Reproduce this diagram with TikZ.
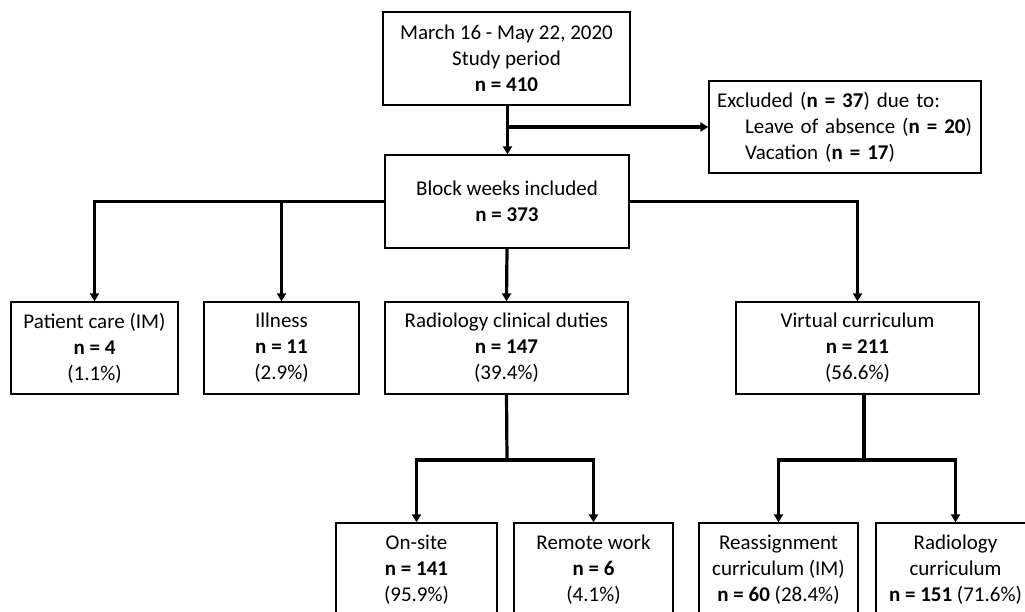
\documentclass[tikz,border=0pt]{standalone}
\usepackage{fontspec}
\setmainfont{Carlito}
\usetikzlibrary{arrows.meta}
\newcommand{\fsz}{\fontsize{21}{26}\selectfont}
\tikzset{
  x=1pt, y=-1pt,
  box/.style={draw, line width=1.3pt, inner sep=0pt, align=center, font=\fsz},
  conn/.style={line width=3.2pt, line cap=butt},
  arr/.style={conn, -{Triangle[width=9pt,length=8pt]}}
}
\begin{document}
\begin{tikzpicture}
\useasboundingbox (0,0) rectangle (1025,612);
\clip (0,0) rectangle (1025,612);
\fill[white] (0,0) rectangle (1025,612);

\node[box, minimum width=247pt, minimum height=93pt] (top) at (506.5,58.5)
  {March 16 - May 22, 2020\\Study period\\\textbf{n = 410}};
\node[box, minimum width=272pt, minimum height=92pt, align=left, text width=256pt] (excl) at (845,127)
  {Excluded (\textbf{n = 37}) due to:\\\hspace*{28pt}Leave of absence (\textbf{n = 20})\\\hspace*{28pt}Vacation (\textbf{n = 17})};
\node[box, minimum width=244pt, minimum height=93pt] (block) at (507,201.5)
  {Block weeks included\\\textbf{n = 373}};

\node[box, minimum width=167pt, minimum height=92pt] (pc) at (94.5,348)
  {Patient care (IM)\\\textbf{n = 4}\\(1.1\%)};
\node[box, minimum width=155pt, minimum height=92pt] (ill) at (281.5,348)
  {Illness\\\textbf{n = 11}\\(2.9\%)};
\node[box, minimum width=243pt, minimum height=92pt] (rcd) at (506.5,348)
  {Radiology clinical duties\\\textbf{n = 147}\\(39.4\%)};
\node[box, minimum width=243pt, minimum height=92pt] (vc) at (857.5,348)
  {Virtual curriculum\\\textbf{n = 211}\\(56.6\%)};

\node[box, minimum width=161pt, minimum height=93pt] (on) at (416.5,569.5)
  {On-site\\\textbf{n = 141}\\(95.9\%)};
\node[box, minimum width=159pt, minimum height=93pt] (rem) at (593.5,569.5)
  {Remote work\\\textbf{n = 6}\\(4.1\%)};
\node[box, minimum width=159pt, minimum height=93pt] (rea) at (778.5,569.5)
  {Reassignment\\curriculum (IM)\\\textbf{n = 60} (28.4\%)};
\node[box, minimum width=159pt, minimum height=93pt] (rcu) at (955.5,569.5)
  {Radiology\\curriculum\\\textbf{n = 151} (71.6\%)};

% connectors
\draw[arr] ([xshift=1pt]top.south) -- ([xshift=1pt]top.south |- block.north);
\coordinate (j1) at ([xshift=1pt]top.south |- excl.west);
\draw[arr] (j1) -- (excl.west);

\draw[arr] (block.west) -| (pc.north);
\draw[arr] (block.west) -| (ill.north);
\draw[arr] (block.south) -- (rcd.north);
\draw[arr] (block.east) -| (vc.north);

\coordinate (j3) at (507,460);
\draw[conn] (rcd.south) -- (j3);
\draw[arr] (j3) -| (on.north);
\draw[arr] (j3) -| (rem.north);

\coordinate (vcb) at ([xshift=6.5pt]vc.south);
\coordinate (j4) at (864,460);
\draw[conn] (vcb) -- (j4);
\draw[arr] (j4) -| (rea.north);
\draw[arr] (j4) -| (rcu.north);
\end{tikzpicture}
\end{document}
